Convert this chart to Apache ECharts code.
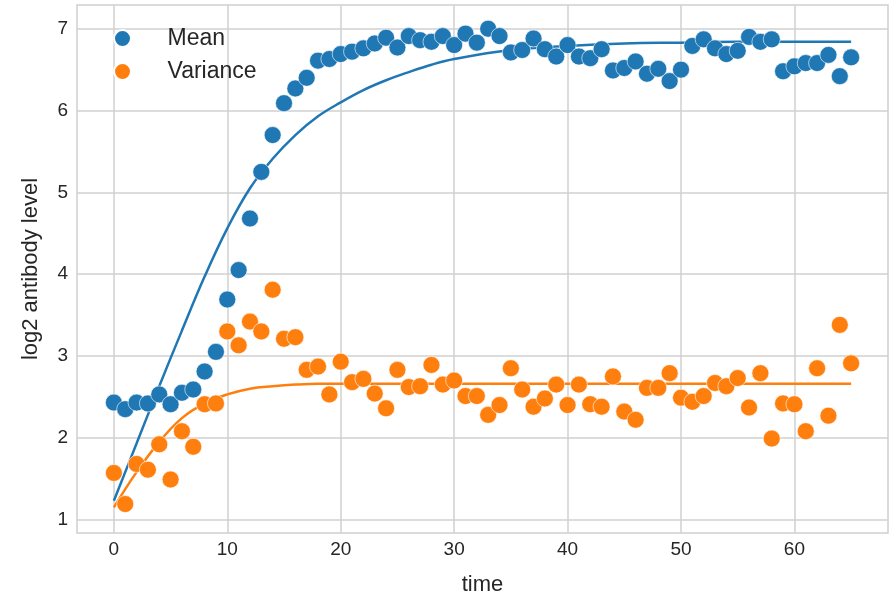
<!DOCTYPE html>
<html>
<head>
<meta charset="utf-8">
<title>log2 antibody level</title>
<script src="https://cdn.jsdelivr.net/npm/echarts@6/dist/echarts.min.js"></script>
<style>
    html, body { margin: 0; padding: 0; background: #ffffff; }
    #main { width: 891px; height: 597px; }
</style>
</head>
<body>
<div id="main"></div>
<script>
// 时间点
var timeValues = [0, 1, 2, 3, 4, 5, 6, 7, 8, 9, 10, 11, 12, 13, 14, 15, 16, 17, 18, 19,
    20, 21, 22, 23, 24, 25, 26, 27, 28, 29, 30, 31, 32, 33, 34, 35, 36, 37, 38, 39,
    40, 41, 42, 43, 44, 45, 46, 47, 48, 49, 50, 51, 52, 53, 54, 55, 56, 57, 58, 59,
    60, 61, 62, 63, 64, 65];
// 均值
var meanValues = [2.43, 2.35, 2.43, 2.42, 2.53, 2.41, 2.55, 2.59, 2.81, 3.05,
    3.69, 4.05, 4.68, 5.25, 5.70, 6.09, 6.27, 6.40, 6.61, 6.63,
    6.69, 6.72, 6.76, 6.82, 6.89, 6.77, 6.91, 6.86, 6.84, 6.91,
    6.80, 6.94, 6.83, 7.00, 6.91, 6.71, 6.74, 6.88, 6.75, 6.66,
    6.80, 6.66, 6.64, 6.75, 6.49, 6.52, 6.60, 6.45, 6.51, 6.36,
    6.50, 6.79, 6.87, 6.76, 6.69, 6.73, 6.90, 6.84, 6.87, 6.48,
    6.54, 6.58, 6.58, 6.68, 6.42, 6.65];
// 方差
var varianceValues = [1.57, 1.19, 1.68, 1.61, 1.92, 1.49, 2.08, 1.89, 2.41, 2.42,
    3.30, 3.13, 3.42, 3.30, 3.81, 3.21, 3.23, 2.83, 2.87, 2.53,
    2.93, 2.68, 2.72, 2.54, 2.36, 2.83, 2.62, 2.63, 2.89, 2.65,
    2.70, 2.51, 2.51, 2.28, 2.40, 2.85, 2.59, 2.38, 2.48, 2.65,
    2.40, 2.65, 2.41, 2.38, 2.75, 2.32, 2.22, 2.61, 2.61, 2.79,
    2.49, 2.44, 2.51, 2.67, 2.63, 2.73, 2.37, 2.79, 1.99, 2.42,
    2.41, 2.08, 2.85, 2.27, 3.38, 2.91];
// 拟合曲线
var fitTimes = [0, 2, 4, 6, 8, 10, 12, 14, 16, 18, 20, 22, 24, 26, 28, 30, 35, 40, 45, 50, 55, 60, 65];
var meanFit = [1.23, 1.93, 2.63, 3.31, 3.97, 4.56, 5.05, 5.41, 5.70, 5.93, 6.10, 6.25, 6.37, 6.47, 6.56, 6.63,
    6.74, 6.79, 6.82, 6.83, 6.84, 6.84, 6.84];
var varianceFit = [1.15, 1.58, 1.95, 2.24, 2.42, 2.53, 2.60, 2.63, 2.65, 2.66, 2.66, 2.66, 2.66, 2.66, 2.66, 2.66,
    2.66, 2.66, 2.66, 2.66, 2.66, 2.66, 2.66];
// 刻度
var xTicks = [0, 10, 20, 30, 40, 50, 60];
var yTicks = [1, 2, 3, 4, 5, 6, 7];

function pairs(xs, ys) {
    var out = [];
    for (var i = 0; i < xs.length; i++) {
        out.push([xs[i], ys[i]]);
    }
    return out;
}

var fontFamily = "'Liberation Sans', Arial, sans-serif";
var textColor = '#262626';
var gridColor = '#d0d0d0';

var myChart = echarts.init(document.getElementById('main'));
var option = {
    animation: false,
    backgroundColor: '#ffffff',
    grid: {
        left: 77,
        right: 3,
        top: 5,
        bottom: 64,
        outerBoundsMode: 'none',
        show: true,
        borderColor: gridColor,
        borderWidth: 1.5,
        backgroundColor: '#ffffff'
    },
    legend: {
        orient: 'vertical',
        left: 108,
        top: 22,
        itemWidth: 80,
        itemHeight: 17,
        itemGap: 10,
        icon: 'circle',
        data: ['Mean', 'Variance'],
        textStyle: { fontFamily: fontFamily, fontSize: 23, color: textColor }
    },
    xAxis: {
        type: 'value',
        min: -3.25,
        max: 68.25,
        name: 'time',
        nameLocation: 'middle',
        nameGap: 41,
        nameTextStyle: { fontFamily: fontFamily, fontSize: 22, color: textColor },
        axisLine: { show: false },
        axisTick: { show: false, customValues: xTicks },
        axisLabel: {
            customValues: xTicks,
            margin: 7,
            fontFamily: fontFamily,
            fontSize: 19,
            color: textColor
        },
        splitLine: { show: true, lineStyle: { color: gridColor, width: 1.5 } }
    },
    yAxis: {
        type: 'value',
        min: 0.836,
        max: 7.29,
        name: 'log2 antibody level',
        nameLocation: 'middle',
        nameGap: 35,
        nameTextStyle: { fontFamily: fontFamily, fontSize: 22, color: textColor },
        axisLine: { show: false },
        axisTick: { show: false, customValues: yTicks },
        axisLabel: {
            customValues: yTicks,
            margin: 9,
            fontFamily: fontFamily,
            fontSize: 19,
            color: textColor
        },
        splitLine: { show: true, lineStyle: { color: gridColor, width: 1.5 } }
    },
    series: [
        {
            name: 'Mean fit',
            type: 'line',
            data: pairs(fitTimes, meanFit),
            smooth: 0.4,
            showSymbol: false,
            lineStyle: { color: '#1f77b4', width: 2.5 },
            z: 2
        },
        {
            name: 'Variance fit',
            type: 'line',
            data: pairs(fitTimes, varianceFit),
            smooth: 0.4,
            showSymbol: false,
            lineStyle: { color: '#ff7f0e', width: 2.5 },
            z: 2
        },
        {
            name: 'Mean',
            type: 'scatter',
            data: pairs(timeValues, meanValues),
            symbolSize: 17,
            itemStyle: { color: '#1f77b4', borderColor: '#ffffff', borderWidth: 0.6, opacity: 1 },
            z: 3
        },
        {
            name: 'Variance',
            type: 'scatter',
            data: pairs(timeValues, varianceValues),
            symbolSize: 17,
            itemStyle: { color: '#ff7f0e', borderColor: '#ffffff', borderWidth: 0.6, opacity: 1 },
            z: 3
        }
    ]
};
myChart.setOption(option);
</script>
</body>
</html>
